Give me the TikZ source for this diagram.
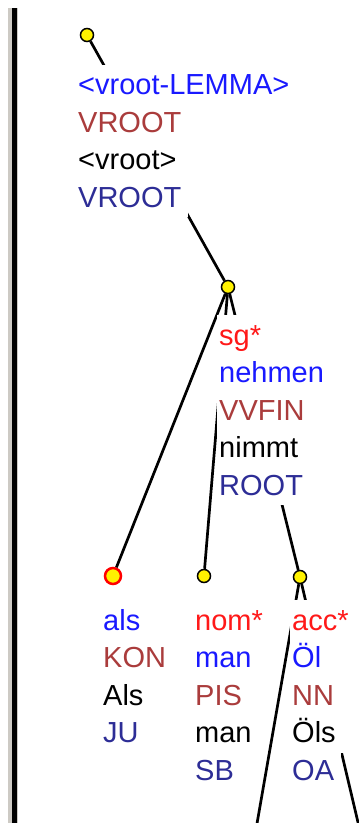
\documentclass[tikz,border=0pt]{standalone}
\usepackage{fontspec}
\setmainfont{Liberation Sans}
\definecolor{lemmablue}{RGB}{25,25,255}
\definecolor{morphred}{RGB}{255,25,25}
\definecolor{posbrown}{RGB}{170,60,60}
\definecolor{funcblue}{RGB}{45,45,150}
\definecolor{bargray}{RGB}{205,202,196}

\begin{document}
\begin{tikzpicture}[x=1pt,y=-1pt]
\tikzstyle{knot} = [circle, draw=black, line width=1.5pt, fill=yellow, minimum size=13pt, inner sep=0pt]
\tikzstyle{headknot} = [knot, draw=red, line width=2.5pt, minimum size=16pt]
\tikzstyle{edge} = [line width=2.7pt]
\tikzstyle{word} = [anchor=base west, fill=white, inner xsep=2pt, inner ysep=0pt, text height=30pt, text depth=10pt, execute at end node={\kern5pt}, font=\fontsize{29}{29}\selectfont]
\useasboundingbox (0,0) rectangle (359,823);
% window border
\fill[bargray] (8,8) rectangle (12,823);
\fill[black] (12,8) rectangle (17,823);
\fill[bargray] (17,8) rectangle (18,823);

% tree nodes
\node (vroot) [knot] at (87,35) {};
\node (nimmt) [knot] at (228,287) {};
\node (als) [headknot] at (113,576) {};
\node (man) [knot] at (204,576) {};
\node (oel) [knot] at (300,577) {};
\coordinate (down1) at (255,835);
\coordinate (down2) at (361,835);

% edges
\draw [edge] (vroot) -- (nimmt);
\draw [edge] (nimmt) -- (als);
\draw [edge] (nimmt) -- (man);
\draw [edge] (nimmt) -- (oel);
\draw [edge] (oel) -- (down1);
\draw [edge] (oel) -- (down2);

% labels under the nodes
\foreach \txt/\col [count=\i] in {{<vroot-LEMMA>}/lemmablue, VROOT/posbrown, {<vroot>}/black, VROOT/funcblue}
  \node (vroot\i) [word, text=\col] at (76, {94.5+37.5*(\i-1)}) {\txt};
\foreach \txt/\col [count=\i] in {sg*/morphred, nehmen/lemmablue, VVFIN/posbrown, nimmt/black, ROOT/funcblue}
  \node (nimmt\i) [word, text=\col] at (217, {345+37.5*(\i-1)}) {\txt};
\foreach \txt/\col [count=\i] in {als/lemmablue, KON/posbrown, Als/black, JU/funcblue}
  \node (als\i) [word, text=\col] at (101, {630+37.5*(\i-1)}) {\txt};
\foreach \txt/\col [count=\i] in {nom*/morphred, man/lemmablue, PIS/posbrown, man/black, SB/funcblue}
  \node (man\i) [word, text=\col] at (193, {630+37.5*(\i-1)}) {\txt};
\foreach \txt/\col [count=\i] in {acc*/morphred, Öl/lemmablue, NN/posbrown, Öls/black, OA/funcblue}
  \node (oel\i) [word, text=\col] at (290, {630+37.5*(\i-1)}) {\txt};
\end{tikzpicture}
\end{document}
